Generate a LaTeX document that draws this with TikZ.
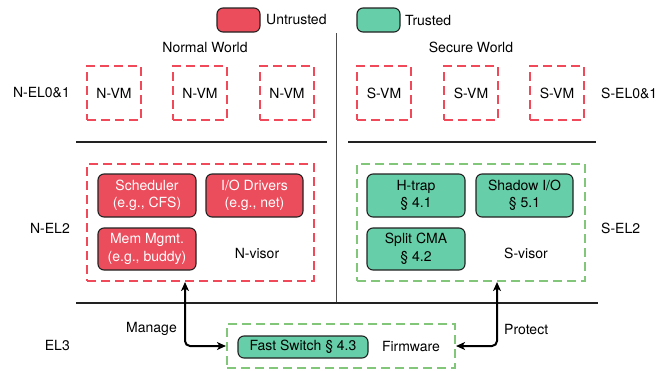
\documentclass[tikz,border=0pt]{standalone}
\usepackage{fontspec}
\setmainfont{TeX Gyre Heros}
\usetikzlibrary{arrows.meta}
\definecolor{untrusted}{RGB}{235,77,92}
\definecolor{trusted}{RGB}{102,206,168}
\definecolor{dred}{RGB}{240,74,90}
\definecolor{dgreen}{RGB}{130,198,122}
\definecolor{sep}{RGB}{34,34,34}
\begin{document}
\begin{tikzpicture}[x=1pt,y=-1pt,
  every node/.style={font=\fontsize{14}{17.5}\selectfont, inner sep=0pt},
  dashbase/.style={line width=2.1pt, dash pattern=on 9pt off 5pt},
  dashred/.style={draw=dred, dashbase},
  dashgreen/.style={draw=dgreen, dashbase},
  vmbox/.style={dashred, minimum width=54pt, minimum height=54pt},
  fillbox/.style={draw=sep, line width=1.1pt, rounded corners=6pt, align=center, minimum height=43pt},
  redbox/.style={fillbox, fill=untrusted, text=white},
  greenbox/.style={fillbox, fill=trusted, text=black},
  sepline/.style={draw=sep, line width=1.3pt},
  arr/.style={line width=2pt, rounded corners=5pt, {Stealth[length=9pt,width=8pt,inset=2.5pt]}-{Stealth[length=9pt,width=8pt,inset=2.5pt]}}
]
\useasboundingbox (0,0) rectangle (672,370);

% legend
\node[redbox, minimum width=43pt, minimum height=24pt] (legR) at (238.5,20) {};
\node[anchor=west] (legRt) at (266,20) {Untrusted};
\node[greenbox, minimum width=43pt, minimum height=24pt] (legG) at (378.5,20) {};
\node[anchor=west] (legGt) at (405,20) {Trusted};

% separators
\draw[draw=black!70, line width=1pt] (336,33) -- (336,303);
\draw[sepline] (76,142) -- (327,142);
\draw[sepline] (348,142) -- (596,142);
\draw[sepline] (76,303) -- (598,303);

% world titles
\node (nw) at (205,47) {Normal World};
\node (sw) at (471,47) {Secure World};

% level labels
\node[anchor=east] (nel01) at (70,93) {N-EL0\&1};
\node[anchor=east] (nel2l) at (70,228) {N-EL2};
\node[anchor=east] (el3) at (70,345) {EL3};
\node[anchor=west] (sel01) at (601,93) {S-EL0\&1};
\node[anchor=west] (sel2l) at (601,228) {S-EL2};

% VMs
\node[vmbox] (nvm1) at (114,93) {N-VM};
\node[vmbox] (nvm2) at (200,93) {N-VM};
\node[vmbox] (nvm3) at (287,93) {N-VM};
\node[vmbox] (svm1) at (384,93) {S-VM};
\node[vmbox] (svm2) at (471,93) {S-VM};
\node[vmbox] (svm3) at (557,93) {S-VM};

% EL2 containers
\node[dashred, minimum width=227pt, minimum height=117pt] (nel2) at (200.5,222.5) {};
\node[dashgreen, minimum width=228pt, minimum height=117pt] (sel2) at (471,222.5) {};

\node[redbox, minimum width=98pt] (sched) at (147,195.5) {Scheduler\\(e.g., CFS)};
\node[redbox, minimum width=97pt] (iodrv) at (254.5,195.5) {I/O Drivers\\(e.g., net)};
\node[redbox, minimum width=98pt, minimum height=42pt] (mem) at (147,249) {Mem Mgmt.\\(e.g., buddy)};
\node (nvisor) at (257,253) {N-visor};

\node[greenbox, minimum width=98pt] (htrap) at (416,195.5) {H-trap\\\S\ 4.1};
\node[greenbox, minimum width=97pt] (shadow) at (524.5,195.5) {Shadow I/O\\\S\ 5.1};
\node[greenbox, minimum width=98pt, minimum height=42pt] (split) at (416,249) {Split CMA\\\S\ 4.2};
\node (svisor) at (526,253) {S-visor};

% EL3 firmware
\node[dashgreen, minimum width=228pt, minimum height=44pt] (fw) at (341,346) {};
\node[greenbox, minimum width=130pt, minimum height=22pt] (fs) at (303,347) {Fast Switch \S\ 4.3};
\node (fwt) at (411,346) {Firmware};

% arrows
\coordinate (mL) at (185,346);
\coordinate (mR) at (497,346);
\draw[arr] (nel2.south -| mL) |- (fw.west);
\draw[arr] (fw.east) -| (sel2.south -| mR);
\node (manage) at (151.5,329) {Manage};
\node[anchor=west] (protect) at (504,329) {Protect};
\end{tikzpicture}
\end{document}
